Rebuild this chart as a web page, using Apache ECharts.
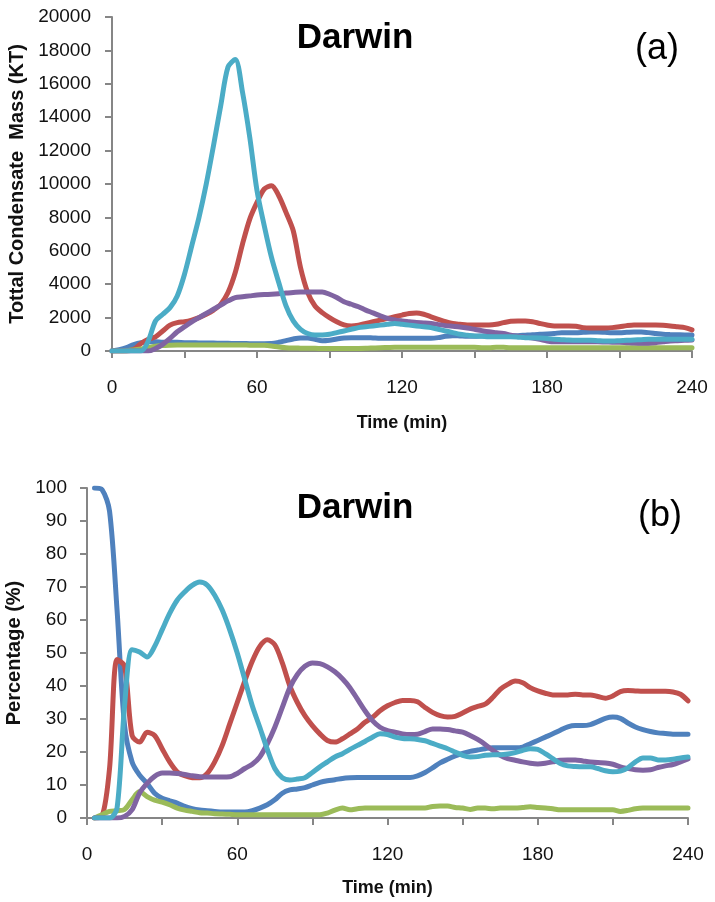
<!DOCTYPE html>
<html>
<head>
<meta charset="utf-8">
<script src="https://cdn.jsdelivr.net/npm/echarts@6/dist/echarts.min.js"></script>
<style>
html,body{margin:0;padding:0;background:#fff;}
#chart{width:715px;height:902px;}
</style>
</head>
<body>
<div id="chart"></div>
<script>
// Time (min), shared by every series
const timeMin = [
  0, 3, 6, 9, 12, 15, 18, 21, 24, 27,
  30, 33, 36, 39, 42, 45, 48, 51, 54, 57,
  60, 63, 66, 69, 72, 75, 78, 81, 84, 87,
  90, 93, 96, 99, 102, 105, 108, 111, 114, 117,
  120, 123, 126, 129, 132, 135, 138, 141, 144, 147,
  150, 153, 156, 159, 162, 165, 168, 171, 174, 177,
  180, 183, 186, 189, 192, 195, 198, 201, 204, 207,
  210, 213, 216, 219, 222, 225, 228, 231, 234, 237,
  240
];
const xTickLabels = [0, 60, 120, 180, 240];

// (a) Total condensate mass (KT)
const massBlue = [
  0, 80, 200, 380, 500, 550, 550, 520, 520, 520,
  500, 500, 480, 480, 480, 460, 460, 450, 450, 440,
  440, 440, 450, 520, 620, 720, 780, 780, 700, 620,
  650, 720, 780, 800, 800, 800, 780, 760, 760, 760,
  760, 760, 760, 760, 760, 800, 880, 920, 900, 880,
  880, 900, 920, 920, 920, 920, 920, 950, 980, 1000,
  1020, 1050, 1100, 1100, 1100, 1120, 1140, 1140, 1120, 1100,
  1100, 1120, 1140, 1140, 1100, 1050, 1000, 980, 970, 960,
  960
];
const massRed = [
  0, 0, 0, 100, 450, 700, 850, 1200, 1550, 1700,
  1750, 1850, 2000, 2200, 2450, 2800, 3500, 4700, 6400, 7900,
  8900, 9700, 9900, 9300, 8300, 7200, 5000, 3500, 2700, 2300,
  2000, 1750, 1560, 1500, 1550, 1650, 1750, 1850, 1950, 2050,
  2150, 2250, 2280, 2200, 2050, 1900, 1750, 1650, 1600, 1560,
  1560, 1560, 1560, 1600, 1700, 1780, 1800, 1800, 1750, 1650,
  1560, 1500, 1500, 1500, 1480, 1400, 1380, 1380, 1380, 1400,
  1450, 1520, 1560, 1560, 1560, 1560, 1540, 1500, 1450, 1400,
  1260
];
const massGreen = [
  0, 0, 20, 60, 120, 200, 280, 330, 350, 360,
  360, 360, 360, 360, 360, 360, 360, 360, 360, 350,
  350, 340, 300, 240, 200, 180, 170, 160, 160, 150,
  150, 150, 150, 150, 150, 160, 180, 200, 210, 220,
  220, 220, 220, 220, 220, 220, 220, 220, 220, 220,
  220, 200, 200, 230, 220, 200, 200, 200, 200, 200,
  200, 200, 200, 200, 200, 200, 200, 200, 200, 200,
  200, 200, 200, 200, 200, 200, 200, 200, 200, 200,
  200
];
const massPurple = [
  0, 0, 0, 0, 0, 0, 150, 400, 750, 1150,
  1450, 1750, 2000, 2250, 2500, 2750, 3000, 3200, 3250, 3300,
  3350, 3380, 3400, 3430, 3470, 3500, 3530, 3530, 3530, 3530,
  3400, 3200, 2950, 2800, 2650, 2450, 2280, 2100, 1950, 1860,
  1800, 1750, 1700, 1680, 1650, 1580, 1520, 1480, 1440, 1380,
  1300, 1220, 1150, 1100, 1050, 950, 880, 820, 780, 700,
  600, 550, 550, 550, 560, 560, 550, 550, 540, 530,
  520, 500, 480, 470, 470, 500, 550, 600, 620, 640,
  660
];
const massCyan = [
  0, 0, 0, 0, 0, 600, 1800, 2200, 2600, 3300,
  4600, 6300, 8000, 10000, 12300, 14700, 17000, 17450, 15500, 12800,
  9600, 7500, 5600, 4100, 2700, 1800, 1300, 1050, 960, 960,
  1000, 1100, 1200, 1300, 1400, 1450, 1500, 1550, 1600, 1650,
  1600, 1550, 1500, 1450, 1400, 1300, 1200, 1100, 1000, 950,
  900, 880, 850, 850, 850, 850, 830, 800, 800, 780,
  750, 700, 680, 660, 650, 650, 640, 620, 600, 600,
  620, 640, 660, 680, 700, 700, 700, 700, 700, 700,
  700
];

// (b) Percentage (%)
const pctBlue = [
  null, 100, 99.5, 93, 63, 28, 17, 13, 10.5, 7.5,
  6, 5.2, 4.5, 3.5, 2.8, 2.4, 2.2, 2, 1.8, 1.8,
  1.8, 1.8, 2.2, 3, 4, 5.5, 7.5, 8.5, 8.8, 9.2,
  10, 10.8, 11.3, 11.6, 12, 12.2, 12.3, 12.3, 12.3, 12.3,
  12.3, 12.3, 12.3, 12.3, 12.8, 13.8, 15.2, 16.7, 17.8, 18.8,
  19.6, 20.2, 20.6, 21, 21.3, 21.3, 21.3, 21.3, 21.5, 22.5,
  23.5, 24.5, 25.5, 26.6, 27.6, 28, 28, 28.3, 29.2, 30.2,
  30.6, 30.2, 28.8, 27.6, 26.8, 26.2, 25.8, 25.6, 25.4, 25.4,
  25.4
];
const pctRed = [
  null, 0, 0.5, 15, 48, 46, 25, 23, 26, 25,
  21, 17, 14, 12.8, 12.2, 12.2, 13.5, 17, 22, 28.5,
  35, 41.5, 47.5, 52, 54, 52.5, 47, 40, 35, 31,
  28, 25.5, 23.5, 23, 24, 25.5, 27, 29, 30.5, 32.5,
  34, 35, 35.6, 35.6, 35.2, 33.5, 32, 31, 30.6, 30.8,
  31.8, 33, 33.8, 34.5, 36.5, 39, 40.5, 41.5, 41, 39.5,
  38.5, 37.8, 37.3, 37.3, 37.3, 37.5, 37.3, 37.3, 36.8, 36.3,
  37, 38.3, 38.6, 38.5, 38.4, 38.4, 38.4, 38.4, 38.2, 37.5,
  35.5
];
const pctGreen = [
  null, 0, 1, 2, 2.2, 2.6, 5.5, 8, 6.5, 5.4,
  4.8, 4, 3, 2.4, 2, 1.6, 1.5, 1.3, 1.2, 1.1,
  1, 1, 1, 1, 1, 1, 1, 1, 1, 1,
  1, 1, 1.5, 2.4, 3, 2.5, 2.8, 3, 3, 3,
  3, 3, 3, 3, 3, 3, 3.5, 3.6, 3.6, 3.2,
  3, 2.6, 3, 3, 2.8, 3, 3, 3, 3.2, 3.4,
  3.2, 3, 2.8, 2.5, 2.5, 2.5, 2.5, 2.5, 2.5, 2.5,
  2.5, 2, 2.3, 2.8, 3, 3, 3, 3, 3, 3,
  3
];
const pctPurple = [
  null, 0, 0, 0, 0, 0.5, 2.5, 7.6, 10.5, 12.6,
  13.6, 13.6, 13.5, 13.2, 12.8, 12.5, 12.4, 12.4, 12.4, 12.5,
  13.5, 15, 16.3, 18.5, 22.5, 27.5, 33.5, 39.5, 43.5, 46,
  47, 46.8, 45.8, 44.3, 42.2, 39.5, 36, 32.5, 29.5, 27.5,
  26.5, 26, 25.5, 25.3, 25.4, 26.2, 27, 27, 26.8, 26.4,
  26, 25, 23.8, 22.3, 20.5, 19, 18, 17.5, 17, 16.6,
  16.4, 16.6, 17, 17.5, 17.6, 17.6, 17.3, 17, 16.8, 16.7,
  16.3, 15.5, 15, 14.6, 14.5, 14.6, 15.3, 15.8, 16.2, 17,
  17.9
];
const pctCyan = [
  null, 0, 0, 0, 3, 34, 51, 50.3, 48.8, 52,
  57, 62, 66, 68.5, 70.5, 71.5, 70.6, 67.5, 63, 57,
  50, 42, 34, 27.5, 20.8, 15, 12.2, 11.5, 11.8, 12.2,
  13.8, 15.5, 17, 18.5, 19.5, 20.8, 22, 23.2, 24.5, 25.5,
  25.3, 24.5, 24.1, 24, 23.8, 23.4, 22.6, 21.8, 21, 20,
  19, 18.5, 18.6, 19, 19.2, 19.2, 19.4, 19.8, 20.5, 21,
  20.8, 19.5, 18, 16.5, 15.8, 15.6, 15.5, 15.5, 15, 14.3,
  14, 14.2, 15.2, 17, 18.2, 18.2, 17.6, 17.6, 17.8, 18.2,
  18.5
];

const seriesColors = ['#4F81BD', '#C0504D', '#9BBB59', '#8064A2', '#4BACC6'];
const massSeries = [massBlue, massRed, massGreen, massPurple, massCyan];
const pctSeries = [pctBlue, pctRed, pctGreen, pctPurple, pctCyan];

const FONT = 'Liberation Sans';
const axisGray = '#868686';

function pairs(vals) {
  return timeMin.map((t, i) => [t, vals[i]]);
}

function xAxisCfg(gridIndex, nameGap) {
  return {
    gridIndex: gridIndex,
    type: 'value',
    min: 0, max: 240, interval: 30,
    axisLine: { lineStyle: { color: axisGray, width: 2 } },
    axisTick: { show: true, length: 7, lineStyle: { color: axisGray, width: 2 } },
    splitLine: { show: false },
    axisLabel: {
      margin: 27, fontSize: 19, color: '#111', fontFamily: FONT,
      formatter: v => (xTickLabels.indexOf(v) >= 0 ? String(v) : '')
    },
    name: 'Time (min)', nameLocation: 'middle', nameGap: nameGap,
    nameTextStyle: { fontSize: 18, fontWeight: 'bold', color: '#111', fontFamily: FONT }
  };
}

function yAxisCfg(gridIndex, max, interval, name, nameGap, margin) {
  return {
    gridIndex: gridIndex,
    type: 'value',
    min: 0, max: max, interval: interval,
    axisLine: { show: true, lineStyle: { color: axisGray, width: 2 } },
    axisTick: { show: true, length: 7, lineStyle: { color: axisGray, width: 2 } },
    splitLine: { show: false },
    axisLabel: { margin: margin, fontSize: 19, color: '#111', fontFamily: FONT, formatter: v => String(v) },
    name: name, nameLocation: 'middle', nameGap: nameGap,
    nameTextStyle: { fontSize: 20, fontWeight: 'bold', color: '#111', fontFamily: FONT }
  };
}

function lineSeries(vals, idx, axisIdx) {
  return {
    type: 'line',
    xAxisIndex: axisIdx, yAxisIndex: axisIdx,
    data: pairs(vals),
    showSymbol: false,
    smooth: 0.3,
    connectNulls: false,
    lineStyle: { width: 5, color: seriesColors[idx], cap: 'round', join: 'round' },
    itemStyle: { color: seriesColors[idx] },
    z: 2 + idx,
    animation: false
  };
}

const chart = echarts.init(document.getElementById('chart'), null, { renderer: 'canvas' });

const series = [];
massSeries.forEach((s, i) => series.push(lineSeries(s, i, 0)));
pctSeries.forEach((s, i) => series.push(lineSeries(s, i, 1)));

chart.setOption({
  animation: false,
  backgroundColor: '#ffffff',
  grid: [
    { left: 112, right: 23, top: 17, bottom: 551, containLabel: false, outerBoundsMode: 'none' },
    { left: 87, right: 27, top: 488, bottom: 84, containLabel: false, outerBoundsMode: 'none' }
  ],
  xAxis: [xAxisCfg(0, 63), xAxisCfg(1, 61)],
  yAxis: [
    yAxisCfg(0, 20000, 2000, 'Tottal Condensate  Mass (KT)', 78, 21),
    yAxisCfg(1, 100, 10, 'Percentage (%)', 55, 20)
  ],
  graphic: [
    { type: 'text', x: 355, y: 38, style: { text: 'Darwin', font: 'bold 35px "Liberation Sans"', fill: '#000', textAlign: 'center', textVerticalAlign: 'middle' } },
    { type: 'text', x: 657, y: 49, style: { text: '(a)', font: '36px "Liberation Sans"', fill: '#000', textAlign: 'center', textVerticalAlign: 'middle' } },
    { type: 'text', x: 355, y: 508, style: { text: 'Darwin', font: 'bold 35px "Liberation Sans"', fill: '#000', textAlign: 'center', textVerticalAlign: 'middle' } },
    { type: 'text', x: 660, y: 516, style: { text: '(b)', font: '36px "Liberation Sans"', fill: '#000', textAlign: 'center', textVerticalAlign: 'middle' } }
  ],
  series: series
});
</script>
</body>
</html>
